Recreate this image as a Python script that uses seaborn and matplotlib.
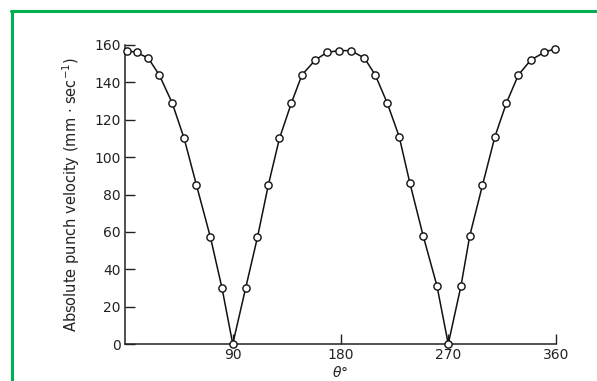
import matplotlib
matplotlib.use("Agg")
import matplotlib.pyplot as plt
from matplotlib.lines import Line2D
import seaborn as sns
import pandas as pd

# Data
theta = [1.5, 9.7, 19.4, 28.6, 39.4, 49.4, 59.7, 71.4, 81, 90, 100.8, 110.6, 119.7,
         129, 139, 147.8, 159, 168.6, 178.6, 188.6, 200, 209, 219, 229, 238,
         249, 260.6, 270, 280.6, 288, 298.6, 309, 318.6, 328.6, 339, 350, 359]
velocity = [157, 156, 153, 144, 129, 110, 85, 57, 30, 0, 30, 57, 85,
            110, 129, 144, 152, 156, 157, 157, 153, 144, 129, 111, 86,
            58, 31, 0, 31, 58, 85, 111, 129, 144, 152, 156, 158]
x_ticks = [90, 180, 270, 360]
y_ticks = [0, 20, 40, 60, 80, 100, 120, 140, 160]

df = pd.DataFrame({"theta": theta, "velocity": velocity})

sns.set_theme(style="ticks")
plt.rcParams["font.family"] = ["DejaVu Sans"]

fig = plt.figure(figsize=(5.97, 3.81), dpi=100)
ax = fig.add_axes([125/597, 1-344/381, (556-125)/597, (344-45)/381])

sns.lineplot(data=df, x="theta", y="velocity", ax=ax, sort=False,
             color="#111111", linewidth=1.1, marker="o", markersize=5.2,
             markerfacecolor="white", markeredgecolor="#111111",
             markeredgewidth=1.0, clip_on=False, zorder=3)

ax.set_xlim(0, 360)
ax.set_ylim(0, 160)
ax.set_xticks(x_ticks)
ax.set_yticks(y_ticks)
ax.tick_params(axis="both", direction="in", length=7, width=1, color="#222222",
               labelsize=10, labelcolor="#222222", pad=3)
sns.despine(ax=ax)
for s in ["left", "bottom"]:
    ax.spines[s].set_color("#222222")
    ax.spines[s].set_linewidth(1.1)

ax.set_xlabel(r"$\theta$°", fontsize=10, color="#222222", labelpad=2)
ax.set_ylabel(r"Absolute punch velocity (mm $\cdot$ sec$^{-1}$)", fontsize=10.5,
              color="#222222", labelpad=9)

# green frame (top and left)
fig.add_artist(Line2D([11/597, 1], [1-10.5/381, 1-10.5/381], color="#00b050",
                      linewidth=2.2, transform=fig.transFigure))
fig.add_artist(Line2D([12/597, 12/597], [0, 1-10.5/381], color="#00b050",
                      linewidth=2.2, transform=fig.transFigure))

fig.savefig("out.png", dpi=100)
